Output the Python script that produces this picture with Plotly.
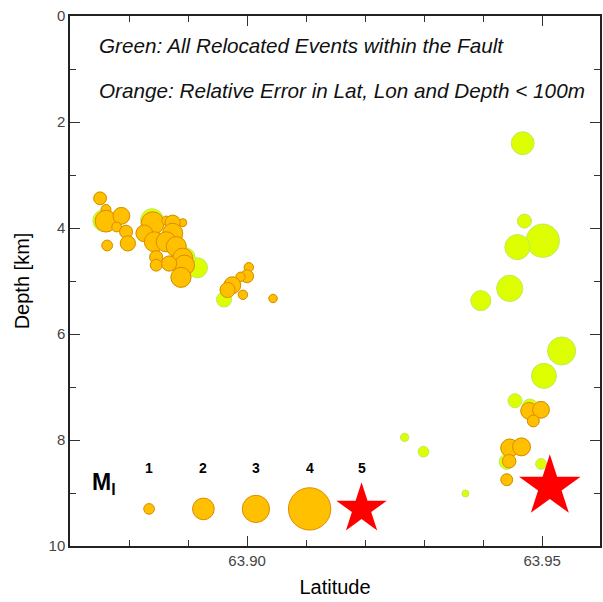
import numpy as np
import plotly.graph_objects as go

# ---- Event catalogue (latitude in deg N, depth in km, local magnitude Ml) ----
# Relocated events that are not part of the well-constrained subset
green_only_lat = [63.8916, 63.8961, 63.9467, 63.9470, 63.9501, 63.9458, 63.9445,
                  63.9396, 63.9533, 63.9503, 63.9454, 63.9479, 63.9440, 63.9498,
                  63.9267, 63.9299, 63.9370, 63.8757, 63.8839, 63.8895]
green_only_depth = [4.75, 5.35, 2.40, 3.87, 4.24, 4.36, 5.14,
                    5.37, 6.32, 6.79, 7.26, 7.37, 8.41, 8.45,
                    7.95, 8.22, 9.01, 3.86, 3.85, 4.56]
green_only_ml = [1.85, 1.4, 2.2, 1.3, 3.4, 2.6, 2.8,
                 1.85, 3.05, 2.6, 1.3, 1.4, 1.4, 1.0,
                 0.75, 1.0, 0.6, 2.0, 2.2, 1.85]

# Events with relative error < 100 m in lat, lon and depth
orange_lat = [63.8751, 63.8761, 63.8761, 63.8787, 63.8779, 63.8795, 63.8798,
              63.8763, 63.8840, 63.8863, 63.8891, 63.8874, 63.8826, 63.8874,
              63.8843, 63.8863, 63.8880, 63.8846, 63.8846, 63.8891, 63.8894,
              63.8888, 63.8868,
              63.9003, 63.9000, 63.8989, 63.8975, 63.8967, 63.8993, 63.9044,
              63.9478, 63.9498, 63.9485, 63.9445, 63.9465, 63.9444, 63.9440]
orange_depth = [3.44, 3.65, 3.87, 3.77, 3.98, 4.07, 4.29,
                4.33, 3.91, 3.86, 3.90, 3.90, 4.10, 4.10,
                4.26, 4.26, 4.35, 4.55, 4.70, 4.57, 4.70,
                4.93, 4.67,
                4.74, 4.91, 4.92, 5.08, 5.17, 5.26, 5.33,
                7.45, 7.43, 7.64, 8.15, 8.13, 8.40, 8.75]
orange_ml = [1.18, 0.9, 2.0, 1.55, 0.9, 1.2, 1.4,
             1.0, 2.2, 0.8, 0.7, 1.4, 1.55, 1.85,
             1.85, 1.85, 1.85, 1.2, 1.1, 1.85, 1.85,
             1.85, 1.4,
             0.85, 1.2, 0.85, 1.55, 1.4, 0.85, 0.75,
             1.55, 1.55, 1.1, 1.65, 1.65, 1.25, 1.1]

# Mainshock hypocentre
mainshock_lat = [63.9513]
mainshock_depth = [8.88]
mainshock_ml = [6.5]

# Magnitude scale key
key_ml = [1, 2, 3, 4]
key_star_ml = [5]
key_lat = [63.8834, 63.8926, 63.9015, 63.9106]
key_star_lat = [63.9194]
key_depth = 9.3
key_label_depth = 8.53

# ---- Symbol scaling ----
ML_KNOTS = [0.5, 1, 2, 3, 4]
DIAM_KNOTS = [6.0, 10.7, 21.7, 27.3, 42.3]


def circle_size(ml):
    return np.interp(np.asarray(ml, dtype=float), ML_KNOTS, DIAM_KNOTS)


def star_size(ml):
    return 38.0 * (np.asarray(ml, dtype=float) / 5.0) ** 0.75


GREEN = "#DDFF00"
GREEN_EDGE = "#BCEB5A"
ORANGE = "#FFC000"
ORANGE_EDGE = "#E08A00"
FONT = "Liberation Sans, Arial, Helvetica, sans-serif"

# Green shows every relocated event, the orange subset is drawn over it
all_lat = green_only_lat + orange_lat
all_depth = green_only_depth + orange_depth
all_ml = green_only_ml + orange_ml

fig = go.Figure()

fig.add_trace(go.Scatter(
    x=all_lat, y=all_depth, mode="markers",
    marker=dict(size=circle_size(all_ml), color=GREEN, opacity=1,
                line=dict(color=GREEN_EDGE, width=1)),
    hoverinfo="skip", showlegend=False))

fig.add_trace(go.Scatter(
    x=orange_lat, y=orange_depth, mode="markers",
    marker=dict(size=circle_size(orange_ml), color=ORANGE, opacity=1,
                line=dict(color=ORANGE_EDGE, width=1)),
    hoverinfo="skip", showlegend=False))

fig.add_trace(go.Scatter(
    x=mainshock_lat, y=mainshock_depth, mode="markers",
    marker=dict(symbol="star", size=star_size(mainshock_ml), color="#FF0000",
                opacity=1, line=dict(width=0)),
    hoverinfo="skip", showlegend=False))

# Magnitude key
fig.add_trace(go.Scatter(
    x=key_lat, y=[key_depth] * len(key_lat), mode="markers",
    marker=dict(size=circle_size(key_ml), color=ORANGE, opacity=1,
                line=dict(color=ORANGE_EDGE, width=1)),
    hoverinfo="skip", showlegend=False))

fig.add_trace(go.Scatter(
    x=key_star_lat, y=[key_depth], mode="markers",
    marker=dict(symbol="star", size=star_size(key_star_ml), color="#FF0000",
                opacity=1, line=dict(width=0)),
    hoverinfo="skip", showlegend=False))

for lat, ml in zip(key_lat + key_star_lat, key_ml + key_star_ml):
    fig.add_annotation(x=lat, y=key_label_depth, text=f"<b>{ml}</b>",
                       showarrow=False, xanchor="center", yanchor="middle",
                       font=dict(family=FONT, size=14, color="black"))

fig.add_annotation(x=63.8757, y=8.82, text="<b>M<sub>l</sub></b>",
                   showarrow=False, xanchor="center", yanchor="middle",
                   font=dict(family=FONT, size=23, color="black"))

fig.add_annotation(x=0.05, y=0.945, xref="paper", yref="paper",
                   text="<i>Green: All Relocated Events within the Fault</i>",
                   showarrow=False, xanchor="left", yanchor="middle",
                   font=dict(family=FONT, size=20.7, color="#111111"))
fig.add_annotation(x=0.05, y=0.86, xref="paper", yref="paper",
                   text="<i>Orange: Relative Error in Lat, Lon and Depth &lt; 100m</i>",
                   showarrow=False, xanchor="left", yanchor="middle",
                   font=dict(family=FONT, size=20.7, color="#111111"))

axis_common = dict(
    showgrid=False, zeroline=False, showline=True, linecolor="#222222",
    linewidth=1.5, mirror="ticks", ticks="inside", ticklen=10,
    tickcolor="#333333", tickwidth=1,
    tickfont=dict(family=FONT, size=15, color="#444444"),
)

fig.update_xaxes(
    range=[63.87, 63.9598],
    tickvals=[63.90, 63.95], ticktext=["63.90", "63.95"],
    minor=dict(tick0=63.90, dtick=0.01, ticks="inside", ticklen=6,
               tickcolor="#333333", tickwidth=1),
    title=dict(text="Latitude", font=dict(family=FONT, size=20, color="black"),
               standoff=12),
    **axis_common)

fig.update_yaxes(
    range=[10, 0], tickvals=[0, 2, 4, 6, 8, 10],
    minor=dict(dtick=1, ticks="inside", ticklen=6,
               tickcolor="#333333", tickwidth=1),
    title=dict(text="Depth [km]", font=dict(family=FONT, size=20, color="black"),
               standoff=14),
    **axis_common)

fig.update_layout(
    width=603, height=602,
    margin=dict(l=70, r=1, t=16, b=56),
    paper_bgcolor="white", plot_bgcolor="white",
)

fig.write_html("out.html")
